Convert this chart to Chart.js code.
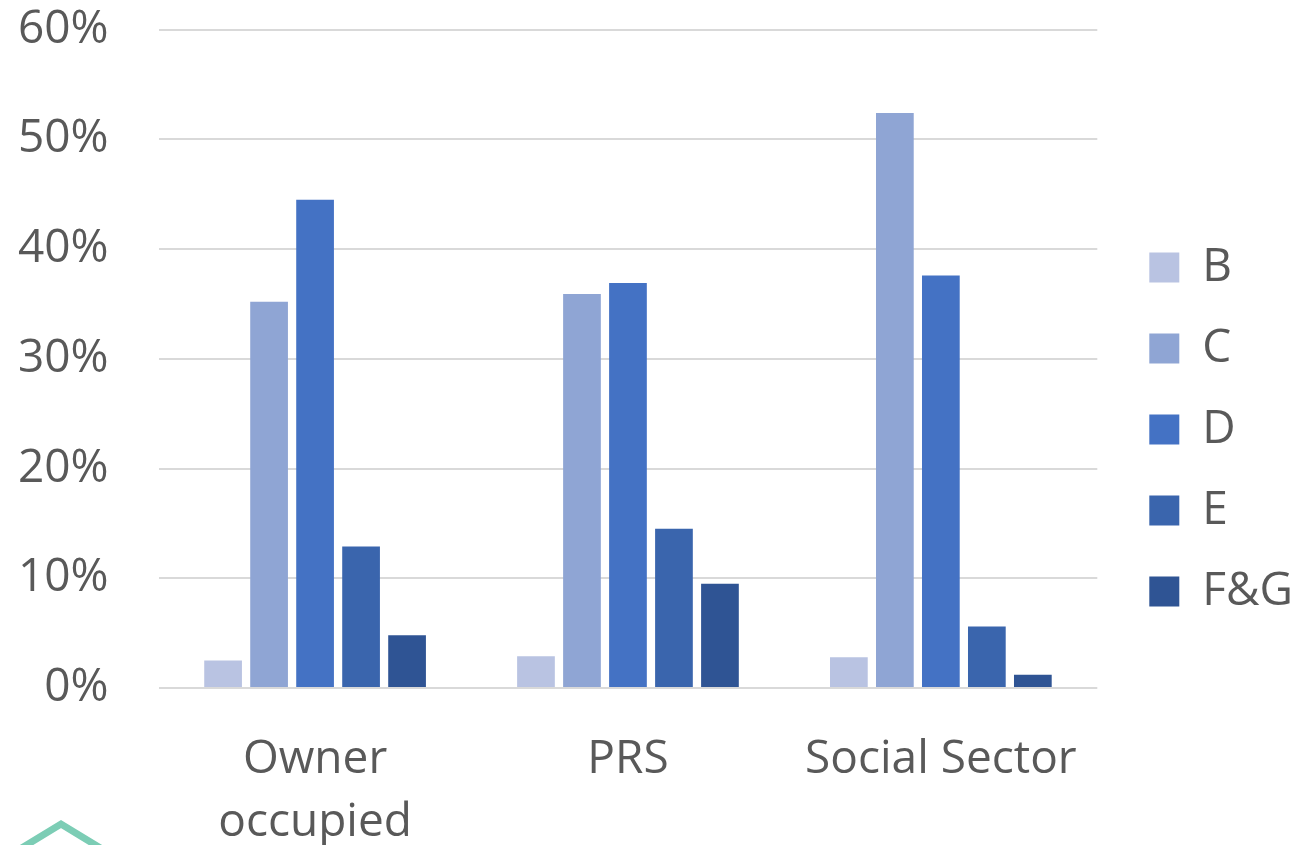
<!DOCTYPE html>
<html>
<head>
<meta charset="utf-8">
<script src="https://cdn.jsdelivr.net/npm/chart.js@4/dist/chart.umd.min.js"></script>
<style>
  html, body { margin: 0; padding: 0; background: #fff; overflow: hidden; }
  #wrap { position: relative; width: 1291px; height: 845px; overflow: hidden; }
  #myChart { position: absolute; left: 0; top: -48px; }
  #logo { position: absolute; left: 0; top: 0; }
</style>
</head>
<body>
<div id="wrap">
  <canvas id="myChart" width="1291" height="893"></canvas>
  <svg id="logo" width="1291" height="845">
    <polyline points="2,860 61,824 120,860" fill="none" stroke="#7ccdb5" stroke-width="7"/>
  </svg>
</div>
<script>
  var categories = [["Owner", "occupied"], "PRS", "Social Sector"];
  var bandB = [2.5, 2.9, 2.8];
  var bandC = [35.2, 35.9, 52.4];
  var bandD = [44.5, 36.9, 37.6];
  var bandE = [12.9, 14.5, 5.6];
  var bandFG = [4.8, 9.5, 1.2];
  var yTicks = [0, 10, 20, 30, 40, 50, 60];

  var textColor = "#595959";
  var font = "'Open Sans', 'DejaVu Sans', sans-serif";

  function series(label, values, color) {
    return {
      label: label,
      data: values,
      backgroundColor: color,
      borderWidth: 0,
      barPercentage: 0.82,
      categoryPercentage: 0.735
    };
  }

  var ctx = document.getElementById("myChart");

  var myChart = new Chart(ctx, {
    type: 'bar',
    data: {
      labels: categories,
      datasets: [
        series("B", bandB, "#b9c3e2"),
        series("C", bandC, "#8fa5d4"),
        series("D", bandD, "#4472c4"),
        series("E", bandE, "#3a65ad"),
        series("F&G", bandFG, "#2f5494")
      ]
    },
    options: {
      responsive: false,
      animation: false,
      devicePixelRatio: 1,
      layout: { padding: { top: 0, left: -32, right: -12, bottom: -41 } },
      plugins: {
        tooltip: { enabled: false },
        legend: {
          position: 'right',
          align: 'center',
          title: { display: true, text: ' ', font: { size: 14 }, padding: 2 },
          labels: {
            color: textColor,
            font: { family: font, size: 46 },
            boxWidth: 30,
            boxHeight: 30,
            padding: 35
          }
        }
      },
      scales: {
        x: {
          grid: { display: false },
          border: { display: false },
          ticks: {
            color: textColor,
            font: { family: font, size: 46, lineHeight: 1.37 },
            padding: 32,
            maxRotation: 0,
            autoSkip: false
          }
        },
        y: {
          min: 0,
          max: 60,
          afterBuildTicks: function(axis) {
            axis.ticks = yTicks.map(function(v) { return { value: v }; });
          },
          grid: { color: "#d9d9d9", lineWidth: 2, drawTicks: false },
          border: { display: false },
          ticks: {
            color: textColor,
            font: { family: font, size: 46 },
            padding: 50,
            callback: function(v) { return v + "%"; }
          }
        },
        // empty strip between plot and legend
        gap: {
          position: 'right',
          grid: { display: false },
          border: { display: false },
          ticks: { display: false },
          afterFit: function(s) { s.width = 17; }
        }
      }
    }
  });
</script>
</body>
</html>
